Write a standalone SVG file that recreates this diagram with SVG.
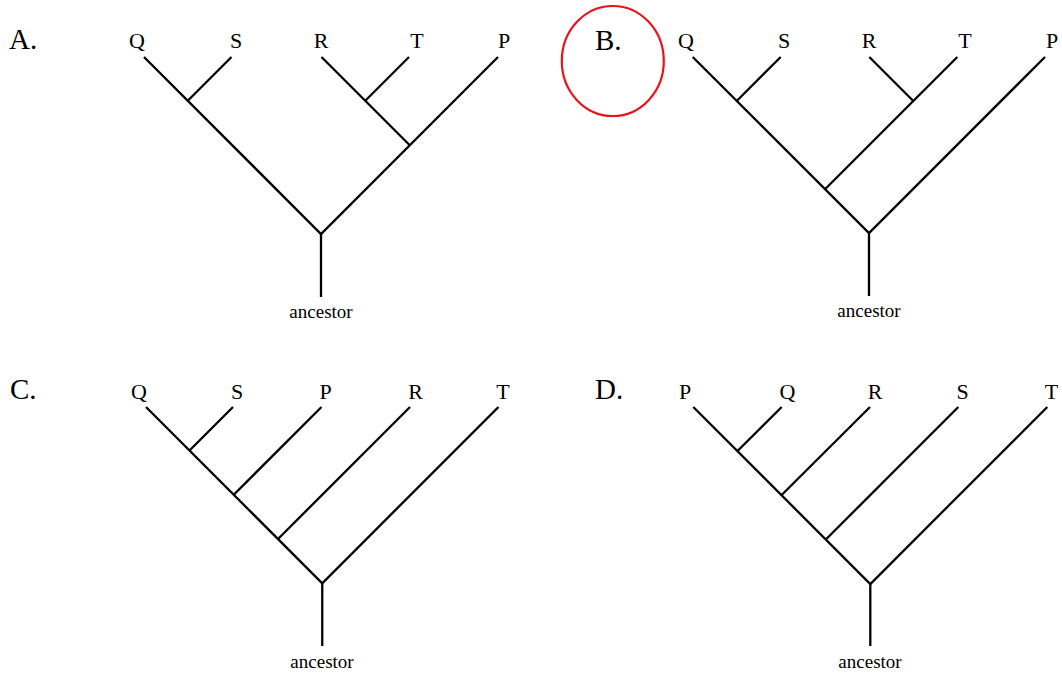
<svg xmlns="http://www.w3.org/2000/svg" width="1062" height="673" viewBox="0 0 1062 673">
<style>
  .br { fill: none; stroke: #000; stroke-width: 2.3; stroke-linecap: butt; stroke-linejoin: miter; }
  .lbl { font-family: "Liberation Serif", "Times New Roman", serif; font-size: 22px; fill: #000; text-anchor: middle; }
  .opt { font-family: "Liberation Serif", "Times New Roman", serif; font-size: 29px; fill: #000; }
  .anc { font-family: "Liberation Serif", "Times New Roman", serif; font-size: 19px; fill: #000; text-anchor: middle; }
</style>
<rect width="1062" height="673" fill="#fff"/>

<!-- Panel A -->
<g id="panelA">
  <text class="opt" x="9" y="49">A.</text>
  <g id="A-labels">
    <text class="lbl" x="137" y="48">Q</text>
    <text class="lbl" x="236" y="48">S</text>
    <text class="lbl" x="321" y="48">R</text>
    <text class="lbl" x="417" y="48">T</text>
    <text class="lbl" x="504" y="48">P</text>
    <text class="anc" x="321" y="318">ancestor</text>
  </g>
  <g id="A-branches">
    <polyline class="br" points="144,57 321,234 498,57"/>
    <line class="br" x1="187.75" y1="100.75" x2="231.5" y2="57"/>
    <polyline class="br" points="321.5,57 409.75,145.25"/>
    <line class="br" x1="365.25" y1="100.75" x2="409" y2="57"/>
    <line class="br" x1="321" y1="234" x2="321" y2="297"/>
  </g>
</g>

<!-- Panel B -->
<g id="panelB">
  <text class="opt" x="595" y="50">B.</text>
  <ellipse cx="612.8" cy="61" rx="51" ry="55" fill="none" stroke="#e8141b" stroke-width="2.2"/>
  <g id="B-labels">
    <text class="lbl" x="686" y="48">Q</text>
    <text class="lbl" x="784" y="48">S</text>
    <text class="lbl" x="869" y="48">R</text>
    <text class="lbl" x="965" y="48">T</text>
    <text class="lbl" x="1052" y="48">P</text>
    <text class="anc" x="869" y="317">ancestor</text>
  </g>
  <g id="B-branches">
    <polyline class="br" points="692.7,57 869,233 1045,57"/>
    <line class="br" x1="736.7" y1="101" x2="780.7" y2="57"/>
    <line class="br" x1="869.3" y1="57" x2="913.3" y2="101"/>
    <line class="br" x1="825" y1="189.3" x2="957.3" y2="57"/>
    <line class="br" x1="869" y1="233" x2="869" y2="296"/>
  </g>
</g>

<!-- Panel C -->
<g id="panelC">
  <text class="opt" x="10" y="399">C.</text>
  <g id="C-labels">
    <text class="lbl" x="139" y="398.5">Q</text>
    <text class="lbl" x="237" y="398.5">S</text>
    <text class="lbl" x="325.5" y="398.5">P</text>
    <text class="lbl" x="415.5" y="398.5">R</text>
    <text class="lbl" x="503" y="398.5">T</text>
    <text class="anc" x="322" y="668">ancestor</text>
  </g>
  <g id="C-branches">
    <polyline class="br" points="146,407 322.25,583.25 498.5,407"/>
    <line class="br" x1="189.5" y1="450.5" x2="233" y2="407"/>
    <line class="br" x1="233.75" y1="494.75" x2="321.5" y2="407"/>
    <line class="br" x1="278" y1="539" x2="410" y2="407"/>
    <line class="br" x1="322.25" y1="583.25" x2="322.25" y2="646"/>
  </g>
</g>

<!-- Panel D -->
<g id="panelD">
  <text class="opt" x="595" y="399">D.</text>
  <g id="D-labels">
    <text class="lbl" x="685" y="398.5">P</text>
    <text class="lbl" x="787.5" y="398.5">Q</text>
    <text class="lbl" x="875" y="398.5">R</text>
    <text class="lbl" x="962.5" y="398.5">S</text>
    <text class="lbl" x="1051.5" y="398.5">T</text>
    <text class="anc" x="870" y="668">ancestor</text>
  </g>
  <g id="D-branches">
    <polyline class="br" points="693.3,407 870.3,584 1047.3,407"/>
    <line class="br" x1="737.5" y1="451" x2="781.7" y2="407"/>
    <line class="br" x1="781.65" y1="495" x2="870" y2="407"/>
    <line class="br" x1="825.8" y1="539.5" x2="958.3" y2="407"/>
    <line class="br" x1="870.3" y1="584" x2="870.3" y2="646"/>
  </g>
</g>
</svg>
